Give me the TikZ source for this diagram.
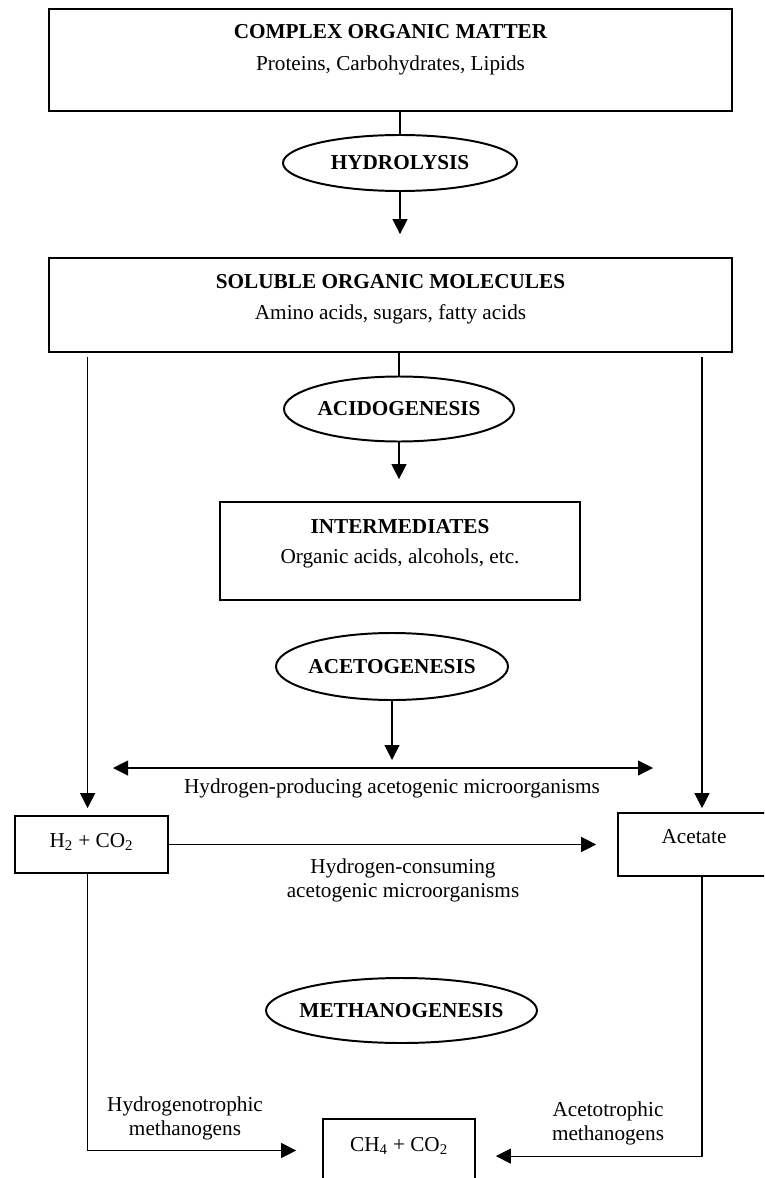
\documentclass[tikz,border=0pt]{standalone}
\usepackage{fontspec}
\setmainfont{Liberation Serif}
\usetikzlibrary{shapes.geometric,positioning,arrows.meta,calc}

\newcommand{\diagfont}{\fontsize{15.1pt}{17.5pt}\selectfont}

\begin{document}
\begin{tikzpicture}[
  font=\diagfont,
  box/.style={rectangle, draw, line width=1.2pt, inner sep=0pt},
  stage/.style={ellipse, draw, line width=1.4pt, inner xsep=-0.4cm, inner ysep=0pt, font=\diagfont\bfseries},
  title/.style={anchor=base, font=\diagfont\bfseries},
  sub/.style={anchor=base},
  note/.style={align=center},
  arrow/.style={-{Triangle[length=3.75mm, width=3.75mm]}, line width=0.75pt},
  twoway/.style={{Triangle[length=3.75mm, width=3.75mm]}-{Triangle[length=3.75mm, width=3.75mm]}, line width=0.75pt},
  line/.style={line width=0.75pt},
]

\useasboundingbox (0,0) rectangle (19.1,-29.45);
\clip (0,0) rectangle (19.1,-29.45);

% Complex organic matter
\node[box, minimum width=17.075cm, minimum height=2.55cm] (cmo) at (9.7625,-1.5) {};
\node[title] (cmo-t) at (9.7625,-0.975) {COMPLEX ORGANIC MATTER};
\node[sub] (cmo-s) at (9.7625,-1.775) {Proteins, Carbohydrates, Lipids};

\node[stage, minimum width=5.85cm, minimum height=1.4cm] (hyd) at (10,-4.075) {HYDROLYSIS};

% Soluble organic molecules
\node[box, minimum width=17.075cm, minimum height=2.35cm] (sol) at (9.7625,-7.625) {};
\node[title] (sol-t) at (9.7625,-7.2) {SOLUBLE ORGANIC MOLECULES};
\node[sub] (sol-s) at (9.7625,-7.975) {Amino acids, sugars, fatty acids};

\node[stage, minimum width=5.75cm, minimum height=1.625cm] (acid) at (9.975,-10.225) {ACIDOGENESIS};

% Intermediates
\node[box, minimum width=9cm, minimum height=2.45cm] (inter) at (10,-13.775) {};
\node[title] (inter-t) at (10,-13.325) {INTERMEDIATES};
\node[sub] (inter-s) at (10,-14.075) {Organic acids, alcohols, etc.};

\node[stage, minimum width=5.8cm, minimum height=1.675cm] (aceto) at (9.8,-16.6625) {ACETOGENESIS};
\coordinate (pl) at (2.825,-19.2);
\coordinate (pr) at (16.325,-19.2);
\node[anchor=base] (prod) at (9.8,-19.825) {Hydrogen-producing acetogenic microorganisms};

% Products
\node[box, minimum width=3.825cm, minimum height=1.425cm, text depth=0.18cm] (h2) at (2.2875,-21.1125) {H\textsubscript{2} + CO\textsubscript{2}};
\node[box, minimum width=3.8cm, minimum height=1.575cm, text depth=0.38cm] (acet) at (17.35,-21.1125) {Acetate};
\node[note] (cons) at (10.075,-22.0125) {Hydrogen-consuming\\acetogenic microorganisms};

\node[stage, minimum width=6.775cm, minimum height=1.625cm] (meth) at (10.0375,-25.2625) {METHANOGENESIS};

\node[box, minimum width=3.8cm, minimum height=1.575cm, text depth=0.285cm] (ch4) at (9.975,-28.7625) {CH\textsubscript{4} + CO\textsubscript{2}};
\node[note] (hm) at (4.625,-27.9625) {Hydrogenotrophic\\methanogens};
\node[note] (am) at (15.2,-28.0875) {Acetotrophic\\methanogens};

\coordinate (lx) at (2.19,0);
\coordinate (rx) at (17.55,0);

% Flow arrows
\draw[line] (cmo.south -| hyd.north) -- (hyd.north);
\draw[arrow, shorten >=0.575cm] (hyd.south) -- (sol.north -| hyd.south);
\draw[line] (sol.south -| acid.north) -- (acid.north);
\draw[arrow, shorten >=0.55cm] (acid.south) -- (inter.north -| acid.south);
\draw[arrow, shorten >=0.2cm] (aceto.south) -- (aceto.south |- pl);
\draw[twoway] (pl) -- (pr);

\draw[arrow, shorten <=0.1cm, shorten >=0.175cm] (sol.south -| lx) -- (h2.north -| lx);
\draw[arrow, shorten <=0.1cm, shorten >=0.1cm] (sol.south -| rx) -- (acet.north -| rx);
\draw[arrow, shorten >=0.525cm] (h2.east) -- (acet.west |- h2.east);

\draw[arrow, shorten >=0.65cm] (h2.south -| lx) |- (ch4.west);
\draw[arrow, shorten >=0.5cm] (acet.south -| rx) |- ([yshift=-0.14cm]ch4.east);

\end{tikzpicture}
\end{document}
